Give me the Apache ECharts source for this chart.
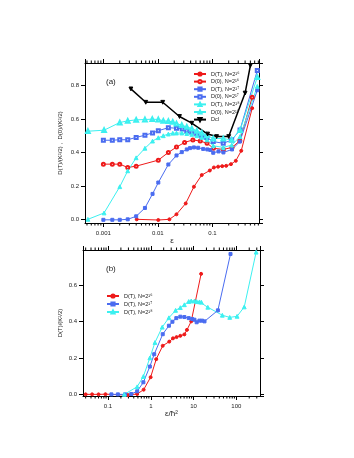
<!DOCTYPE html>
<html><head><meta charset="utf-8">
<script src="https://cdn.jsdelivr.net/npm/echarts@6/dist/echarts.min.js"></script>
<style>html,body{margin:0;padding:0;background:#fff;}#c{width:354px;height:458px;}</style>
</head><body><div id="c"></div>
<script>
// ---------- Panel (a) data: x = epsilon ----------
const aX_DT16 = [0.0041, 0.0102, 0.0163, 0.022, 0.0325, 0.046, 0.064, 0.09, 0.107, 0.128, 0.152, 0.18, 0.22, 0.27, 0.34, 0.54];
const aY_DT16 = [0.0, -0.004, 0.0, 0.03, 0.095, 0.195, 0.265, 0.292, 0.31, 0.315, 0.318, 0.32, 0.33, 0.35, 0.41, 0.665];
const aX_D016 = [0.001, 0.00146, 0.002, 0.0028, 0.004, 0.0102, 0.0156, 0.022, 0.031, 0.044, 0.06, 0.08, 0.105, 0.16, 0.23, 0.32, 0.54];
const aY_D016 = [0.33, 0.33, 0.33, 0.31, 0.318, 0.354, 0.40, 0.432, 0.46, 0.475, 0.468, 0.455, 0.425, 0.418, 0.43, 0.47, 0.73];
const aX_DT17 = [0.001, 0.00146, 0.002, 0.0028, 0.004, 0.0058, 0.008, 0.0102, 0.0156, 0.022, 0.0275, 0.034, 0.039, 0.046, 0.055, 0.068, 0.081, 0.092, 0.104, 0.13, 0.16, 0.23, 0.32, 0.67];
const aY_DT17 = [-0.003, -0.003, -0.003, 0.0, 0.018, 0.068, 0.152, 0.22, 0.328, 0.382, 0.402, 0.418, 0.426, 0.43, 0.428, 0.421, 0.418, 0.415, 0.398, 0.406, 0.40, 0.418, 0.465, 0.772];
const aX_D017 = [0.001, 0.00146, 0.002, 0.0028, 0.004, 0.0058, 0.008, 0.0102, 0.0156, 0.022, 0.028, 0.034, 0.042, 0.052, 0.064, 0.079, 0.104, 0.159, 0.227, 0.323, 0.67];
const aY_D017 = [0.473, 0.473, 0.476, 0.476, 0.49, 0.503, 0.517, 0.53, 0.548, 0.545, 0.54, 0.53, 0.522, 0.51, 0.498, 0.49, 0.465, 0.455, 0.474, 0.535, 0.89];
const aX_DT18 = [0.00052, 0.00103, 0.002, 0.0028, 0.004, 0.0058, 0.008, 0.0102, 0.0126, 0.0156, 0.0188, 0.022, 0.0275, 0.034, 0.042, 0.052, 0.064, 0.08, 0.104, 0.159, 0.227, 0.323, 0.67];
const aY_DT18 = [0.0, 0.038, 0.195, 0.29, 0.368, 0.425, 0.468, 0.488, 0.50, 0.51, 0.515, 0.516, 0.516, 0.513, 0.508, 0.50, 0.49, 0.475, 0.44, 0.43, 0.444, 0.495, 0.795];
const aX_D018 = [0.00052, 0.00103, 0.002, 0.0028, 0.004, 0.0058, 0.0079, 0.0102, 0.0126, 0.0156, 0.0188, 0.022, 0.0275, 0.034, 0.042, 0.052, 0.064, 0.079, 0.104, 0.159, 0.227, 0.323, 0.67];
const aY_D018 = [0.527, 0.533, 0.579, 0.589, 0.595, 0.597, 0.599, 0.597, 0.589, 0.587, 0.583, 0.573, 0.563, 0.553, 0.543, 0.529, 0.517, 0.503, 0.483, 0.483, 0.475, 0.533, 0.85];
const aX_Dcl = [0.0032, 0.006, 0.0123, 0.025, 0.042, 0.082, 0.12, 0.2, 0.4, 0.5];
const aY_Dcl = [0.78, 0.70, 0.70, 0.615, 0.575, 0.51, 0.495, 0.495, 0.755, 0.92];

// ---------- Panel (b) data: x = epsilon / hbar^2 ----------
const bX_DT16 = [0.03, 0.0424, 0.06, 0.087, 0.29, 0.48, 0.68, 0.99, 1.34, 1.9, 2.7, 3.3, 4.0, 4.9, 6.1, 7.0, 8.8, 15.0];
const bY_DT16 = [-0.002, -0.002, -0.002, -0.001, -0.006, 0.0, 0.024, 0.093, 0.193, 0.267, 0.29, 0.308, 0.315, 0.322, 0.33, 0.355, 0.402, 0.665];
const bX_DT17 = [0.12, 0.17, 0.25, 0.35, 0.48, 0.67, 0.95, 1.2, 1.9, 2.65, 3.2, 3.95, 4.9, 6.1, 7.7, 9.3, 10.5, 11.8, 13.7, 15.8, 18.0, 37, 73];
const bY_DT17 = [-0.002, -0.002, -0.002, 0.0, 0.015, 0.065, 0.152, 0.22, 0.331, 0.378, 0.40, 0.42, 0.428, 0.426, 0.42, 0.415, 0.411, 0.397, 0.406, 0.406, 0.402, 0.463, 0.775];
const bX_DT18 = [0.24, 0.48, 0.67, 0.95, 1.25, 1.85, 2.65, 3.8, 4.9, 6.1, 7.7, 8.8, 10.5, 11.8, 13.7, 15.2, 21.5, 47, 70, 104, 153, 290];
const bY_DT18 = [-0.002, 0.04, 0.097, 0.20, 0.285, 0.37, 0.422, 0.463, 0.478, 0.494, 0.512, 0.515, 0.515, 0.512, 0.51, 0.508, 0.48, 0.436, 0.424, 0.43, 0.482, 0.785];

// ---------- Labels ----------
const names = {
  DT16: 'D(T), N=2\u00b9\u2076', D016: 'D(0), N=2\u00b9\u2076',
  DT17: 'D(T), N=2\u00b9\u2077', D017: 'D(0), N=2\u00b9\u2077',
  DT18: 'D(T), N=2\u00b9\u2078', D018: 'D(0), N=2\u00b9\u2078',
  Dcl: 'Dcl'
};
const aYName = 'D(T)/(K\u00b2/2) ,  D(0)/(K\u00b2/2)';
const aXName = '\u03b5';
const bYName = 'D(T)/(K\u00b2/2)';
const bXName = '\u03b5/\u0127\u00b2';
// minor log ticks (axis decoration)
const aMinorTicks = [0.0005,0.0006,0.0007,0.0008,0.0009,0.002,0.003,0.004,0.005,0.006,0.007,0.008,0.009,0.02,0.03,0.04,0.05,0.06,0.07,0.08,0.09,0.2,0.3,0.4,0.5,0.6,0.7];
const bMinorTicks = [0.03,0.04,0.05,0.06,0.07,0.08,0.09,0.2,0.3,0.4,0.5,0.6,0.7,0.8,0.9,2,3,4,5,6,7,8,9,20,30,40,50,60,70,80,90,200,300];

const RED = '#ee1a1a', BLUE = '#4a6cf0', CYAN = '#3cf0f0', BLACK = '#000';
const FONT = 'Liberation Sans, Arial, sans-serif';
const TXT = '#222';

function pairs(xs, ys) { return xs.map((x, i) => [x, ys[i]]); }

function lineSeries(name, xs, ys, color, symbol, gi, extra) {
  const tri = symbol.toLowerCase().indexOf('triangle') >= 0;
  return Object.assign({
    type: 'line', name: name, xAxisIndex: gi * 2, yAxisIndex: gi * 2,
    data: pairs(xs, ys), symbol: symbol, symbolSize: tri ? 3.8 : 3, showSymbol: true,
    lineStyle: { color: color, width: 1 },
    itemStyle: { color: color, borderColor: color, borderWidth: 1 },
    emphasis: { disabled: true }, animation: false, z: 3
  }, extra || {});
}

function minorTickSeries(gi, values) {
  return {
    type: 'custom', xAxisIndex: gi * 2, yAxisIndex: gi * 2, silent: true, clip: false, animation: false,
    data: values.map(v => [v, 0]),
    renderItem: function (params, api) {
      const cs = params.coordSys;
      const px = api.coord([api.value(0), 0])[0];
      const b = cs.y + cs.height, t = cs.y;
      return { type: 'group', children: [
        { type: 'line', shape: { x1: px, y1: b, x2: px, y2: b + 2.5 }, style: { stroke: '#000', lineWidth: 1 } },
        { type: 'line', shape: { x1: px, y1: t, x2: px, y2: t - 2.5 }, style: { stroke: '#000', lineWidth: 1 } }
      ]};
    }
  };
}

const axisLine = { show: true, onZero: false, lineStyle: { color: '#000', width: 1 } };
const tickStyle = { show: true, length: 4, lineStyle: { color: '#000', width: 1 } };
const labelStyle = { color: TXT, fontSize: 6, fontFamily: FONT, showMinLabel: false, showMaxLabel: false };

function xAxes(gi, min, max, name, gap) {
  return [
    { type: 'log', logBase: 10, gridIndex: gi, min: min, max: max, position: 'bottom',
      name: name, nameLocation: 'middle', nameGap: gap,
      nameTextStyle: { color: TXT, fontSize: 8, fontFamily: FONT },
      axisLine: axisLine, axisTick: tickStyle, splitLine: { show: false },
      axisLabel: Object.assign({ margin: 7, formatter: v => String(+v.toPrecision(6)) }, labelStyle) },
    { type: 'log', logBase: 10, gridIndex: gi, min: min, max: max, position: 'top',
      axisLine: axisLine, axisTick: tickStyle, splitLine: { show: false }, axisLabel: { show: false } }
  ];
}
function yAxes(gi, min, max, name, gap) {
  return [
    { type: 'value', gridIndex: gi, min: min, max: max, splitNumber: 5, position: 'left',
      name: name, nameLocation: 'middle', nameGap: gap, nameRotate: 90,
      nameTextStyle: { color: TXT, fontSize: 6, fontFamily: FONT },
      axisLine: axisLine, axisTick: tickStyle, splitLine: { show: false },
      axisLabel: Object.assign({ margin: 6, formatter: v => v.toFixed(1) }, labelStyle) },
    { type: 'value', gridIndex: gi, min: min, max: max, splitNumber: 5, position: 'right',
      axisLine: axisLine, axisTick: tickStyle, splitLine: { show: false }, axisLabel: { show: false } }
  ];
}

const legendText = { color: TXT, fontSize: 5.5, fontFamily: FONT, lineHeight: 6 };

const option = {
  backgroundColor: '#fff',
  animation: false,
  grid: [
    { left: 85, top: 63, width: 174, height: 160, outerBoundsMode: 'none', containLabel: false },
    { left: 83, top: 250, width: 177, height: 146, outerBoundsMode: 'none', containLabel: false }
  ],
  xAxis: [].concat(xAxes(0, 0.00046, 0.72, aXName, 9), xAxes(1, 0.026, 357, bXName, 11)),
  yAxis: [].concat(yAxes(0, -0.022, 0.935, aYName, 22), yAxes(1, -0.011, 0.797, bYName, 20)),
  legend: [
    { orient: 'vertical', left: 188, top: 66, itemWidth: 12, itemHeight: 4, itemGap: 1.6,
      textStyle: legendText, selectedMode: false,
      data: [names.DT16, names.D016, names.DT17, names.D017, names.DT18, names.D018, names.Dcl] },
    { orient: 'vertical', left: 101, top: 288, itemWidth: 12, itemHeight: 4, itemGap: 2,
      textStyle: legendText, selectedMode: false,
      data: [names.DT16, names.DT17, names.DT18] }
  ],
  graphic: [
    { type: 'text', left: 106, top: 78, style: { text: '(a)', fill: TXT, font: '8px ' + FONT } },
    { type: 'text', left: 106, top: 265, style: { text: '(b)', fill: TXT, font: '8px ' + FONT } }
  ],
  series: [
    lineSeries(names.DT16, aX_DT16, aY_DT16, RED, 'circle', 0),
    lineSeries(names.D016, aX_D016, aY_D016, RED, 'emptyCircle', 0),
    lineSeries(names.DT17, aX_DT17, aY_DT17, BLUE, 'rect', 0),
    lineSeries(names.D017, aX_D017, aY_D017, BLUE, 'emptyRect', 0),
    lineSeries(names.DT18, aX_DT18, aY_DT18, CYAN, 'triangle', 0),
    lineSeries(names.D018, aX_D018, aY_D018, CYAN, 'emptyTriangle', 0),
    lineSeries(names.Dcl, aX_Dcl, aY_Dcl, BLACK, 'triangle', 0, { symbolRotate: 180, lineStyle: { color: BLACK, width: 1.5 } }),
    lineSeries(names.DT16, bX_DT16, bY_DT16, RED, 'circle', 1),
    lineSeries(names.DT17, bX_DT17, bY_DT17, BLUE, 'rect', 1),
    lineSeries(names.DT18, bX_DT18, bY_DT18, CYAN, 'triangle', 1),
    minorTickSeries(0, aMinorTicks),
    minorTickSeries(1, bMinorTicks)
  ]
};

const chart = echarts.init(document.getElementById('c'), null, { renderer: 'canvas' });
chart.setOption(option);
</script>
</body></html>
